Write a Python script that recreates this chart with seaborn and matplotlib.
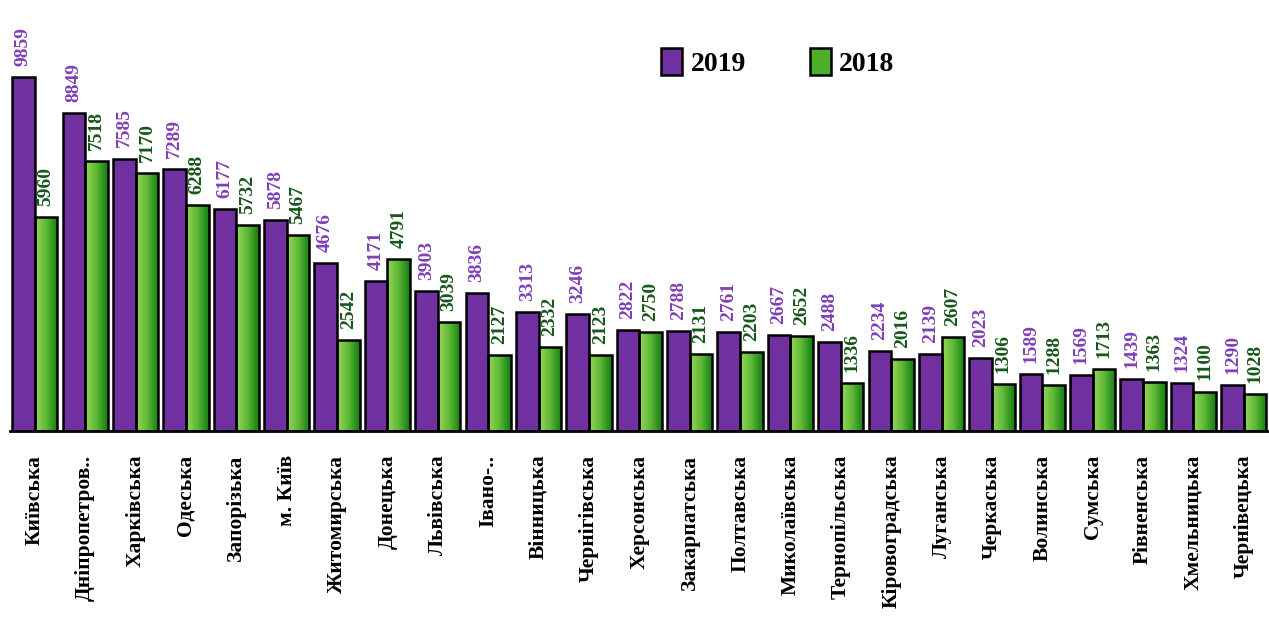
import numpy as np
import pandas as pd
import matplotlib
matplotlib.use("Agg")
import matplotlib.pyplot as plt
from matplotlib.colors import LinearSegmentedColormap
import seaborn as sns

regions = ["Київська", "Дніпропетров..", "Харківська", "Одеська", "Запорізька",
           "м. Київ", "Житомирська", "Донецька", "Львівська", "Івано-..",
           "Вінницька", "Чернігівська", "Херсонська", "Закарпатська", "Полтавська",
           "Миколаївська", "Тернопільська", "Кіровоградська", "Луганська", "Черкаська",
           "Волинська", "Сумська", "Рівненська", "Хмельницька", "Чернівецька"]
v2019 = [9859, 8849, 7585, 7289, 6177, 5878, 4676, 4171, 3903, 3836, 3313, 3246,
         2822, 2788, 2761, 2667, 2488, 2234, 2139, 2023, 1589, 1569, 1439, 1324, 1290]
v2018 = [5960, 7518, 7170, 6288, 5732, 5467, 2542, 4791, 3039, 2127, 2332, 2123,
         2750, 2131, 2203, 2652, 1336, 2016, 2607, 1306, 1288, 1713, 1363, 1100, 1028]
years = ["2019", "2018"]

df = pd.DataFrame({
    "region": regions * 2,
    "value": v2019 + v2018,
    "year": [years[0]] * len(regions) + [years[1]] * len(regions),
})

sns.set_style("white")
plt.rcParams["font.family"] = ["Liberation Serif", "DejaVu Serif"]
plt.rcParams["font.weight"] = "bold"
plt.rcParams["text.color"] = "black"
plt.rcParams["xtick.color"] = "black"

purple = "#7030A0"
green = "#3DA520"
fig = plt.figure(figsize=(12.69, 6.44), dpi=100)
ax = fig.add_axes([0.0076, 0.3307, 0.9924, 0.6693])

sns.barplot(data=df, x="region", y="value", hue="year", hue_order=years,
            palette=[purple, green], width=0.9, gap=0, edgecolor="black",
            linewidth=1.8, saturation=1, ax=ax, legend=True)

# gradient fill for the 2018 bars
cmap = LinearSegmentedColormap.from_list("g", ["#9AD65C", "#5DB835", "#127C12"])
grad = np.linspace(0, 1, 64).reshape(1, -1)
for p in ax.containers[1]:
    x, w, h = p.get_x(), p.get_width(), p.get_height()
    im = ax.imshow(grad, extent=[x, x + w, 0, h], aspect="auto", cmap=cmap,
                   zorder=p.get_zorder() - 0.1)
    im.set_clip_path(p)
    p.set_facecolor("none")

# value labels
for cont, col in zip(ax.containers, ["#8040B8", "#17571A"]):
    ax.bar_label(cont, labels=[f"{int(v)}" for v in cont.datavalues],
                 rotation=90, padding=8, fontsize=14, color=col, fontweight="bold")

ax.set_xlim(-0.5, 24.29)
ax.set_ylim(0, 12000)
ax.set_xlabel("")
ax.set_ylabel("")
ax.set_yticks([])
for s in ["top", "right", "left"]:
    ax.spines[s].set_visible(False)
ax.spines["bottom"].set_linewidth(2)
ax.spines["bottom"].set_color("black")

ax.set_xticks(np.arange(-0.5, 25, 1), minor=True)
ax.tick_params(axis="x", which="minor", length=8, width=1.2, color="black", direction="out")
ax.tick_params(axis="x", which="major", length=0, pad=17, labelcolor="black")
ax.set_xticks(range(len(regions)))
ax.set_xticklabels(regions, rotation=90, fontsize=15.5, fontweight="bold", va="top")

leg = ax.legend(loc="center", bbox_to_anchor=(0.61, 0.855), ncol=2, frameon=False,
                handlelength=0.75, handleheight=1.15, columnspacing=2.3,
                handletextpad=0.3, prop={"weight": "bold", "size": 20})
leg.legend_handles[1].set_facecolor("#4CB02A")
for t in leg.get_texts():
    t.set_color("black")

fig.savefig("out.png", dpi=100)
